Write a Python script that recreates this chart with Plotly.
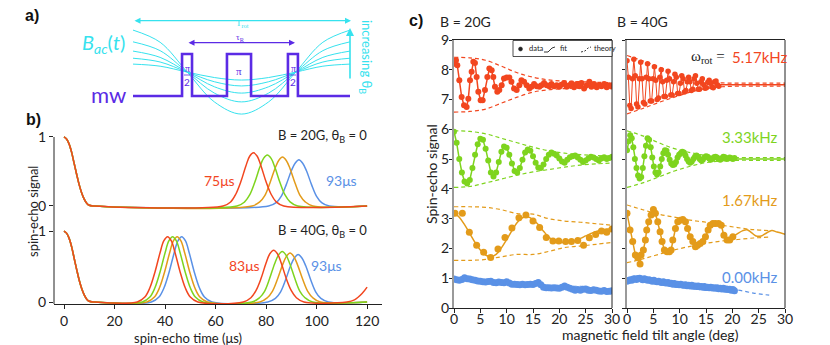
import plotly.graph_objects as go

# the page body adds an 8px margin, so the figure is 8px smaller and every
# layout position below is given in page pixels and shifted back by 8px
W, H = 830, 345
PAGE_PAD = 8
FIG_W, FIG_H = W - PAGE_PAD, H - PAGE_PAD
FONT = "Lato"
SERIF = "Liberation Serif"

RED = "#F2461F"
GREEN = "#7ED41E"
ORANGE = "#E39B1A"
BLUE = "#5A91E6"
CYAN = "#36E2EE"
PURPLE = "#5B2BE5"

# ---------------- panel a: pulse sequence schematic (t in units of T_rot) ----------------
mw_t = [0, 0.226, 0.226, 0.272, 0.272, 0.433, 0.433, 0.544, 0.544, 0.714, 0.714, 0.760, 0.760, 1.0]
mw_level = [0, 0, 1, 1, 0, 0, 1, 1, 0, 0, 1, 1, 0, 0]
bac_t = [0, 0.125, 0.25, 0.375, 0.5, 0.625, 0.75, 0.875, 1.0]
bac_1 = [1.57, 1.28, 0.57, -0.14, -0.43, -0.14, 0.57, 1.28, 1.57]
bac_2 = [1.29, 1.08, 0.57, 0.07, -0.14, 0.07, 0.57, 1.08, 1.29]
bac_3 = [1.07, 0.92, 0.57, 0.22, 0.07, 0.22, 0.57, 0.92, 1.07]
bac_4 = [0.90, 0.81, 0.57, 0.34, 0.24, 0.34, 0.57, 0.81, 0.90]
bac_5 = [0.76, 0.71, 0.57, 0.44, 0.38, 0.44, 0.57, 0.71, 0.76]

# ---------------- panel b: spin-echo signal vs time (us) ----------------
decay_t = [0, 1, 2, 3, 4, 5, 6, 7, 8, 9, 10, 12]
decay_v = [1.0, 0.97, 0.9, 0.78, 0.62, 0.46, 0.31, 0.19, 0.1, 0.04, 0.01, 0.0]

b20_red_t = [63, 66, 68, 70, 72, 73.5, 75, 76.5, 78, 80, 82, 84, 87]
b20_red_v = [0, 0.06, 0.17, 0.35, 0.58, 0.72, 0.77, 0.72, 0.58, 0.35, 0.17, 0.06, 0]
b20_green_t = [68.5, 71.5, 73.5, 75.5, 77.5, 79, 80.5, 82, 83.5, 85.5, 87.5, 89.5, 92.5]
b20_green_v = [0, 0.06, 0.16, 0.34, 0.56, 0.69, 0.74, 0.69, 0.56, 0.34, 0.16, 0.06, 0]
b20_orange_t = [74.5, 77.5, 79.5, 81.5, 83.5, 85, 86.5, 88, 89.5, 91.5, 93.5, 95.5, 98.5]
b20_orange_v = [0, 0.06, 0.15, 0.33, 0.54, 0.66, 0.71, 0.66, 0.54, 0.33, 0.15, 0.06, 0]
b20_blue_t = [81, 84, 86, 88, 90, 91.5, 93, 94.5, 96, 98, 100, 102, 105]
b20_blue_v = [0, 0.05, 0.14, 0.31, 0.51, 0.62, 0.67, 0.62, 0.51, 0.31, 0.14, 0.05, 0]

b40_red_t1 = [29, 32, 34, 36, 38, 39.5, 41, 42.5, 44, 46, 48, 50, 53]
b40_green_t1 = [31, 34, 36, 38, 40, 41.5, 43, 44.5, 46, 48, 50, 52, 55]
b40_orange_t1 = [32.8, 35.8, 37.8, 39.8, 41.8, 43.3, 44.8, 46.3, 47.8, 49.8, 51.8, 53.8, 56.8]
b40_blue_t1 = [34.6, 37.6, 39.6, 41.6, 43.6, 45.1, 46.6, 48.1, 49.6, 51.6, 53.6, 55.6, 58.6]
b40_first_v = [0, 0.07, 0.2, 0.42, 0.69, 0.86, 0.92, 0.86, 0.69, 0.42, 0.2, 0.07, 0]

b40_red_t2 = [71, 74, 76, 78, 80, 81.5, 83, 84.5, 86, 88, 90, 92, 95]
b40_red_v2 = [0, 0.06, 0.16, 0.33, 0.55, 0.68, 0.73, 0.68, 0.55, 0.33, 0.16, 0.06, 0]
b40_green_t2 = [74.4, 77.4, 79.4, 81.4, 83.4, 84.9, 86.4, 87.9, 89.4, 91.4, 93.4, 95.4, 98.4]
b40_green_v2 = [0, 0.06, 0.15, 0.33, 0.54, 0.66, 0.71, 0.66, 0.54, 0.33, 0.15, 0.06, 0]
b40_orange_t2 = [77.5, 80.5, 82.5, 84.5, 86.5, 88, 89.5, 91, 92.5, 94.5, 96.5, 98.5, 101.5]
b40_orange_v2 = [0, 0.06, 0.15, 0.32, 0.52, 0.64, 0.69, 0.64, 0.52, 0.32, 0.15, 0.06, 0]
b40_blue_t2 = [80.7, 83.7, 85.7, 87.7, 89.7, 91.2, 92.7, 94.2, 95.7, 97.7, 99.7, 101.7, 104.7]
b40_blue_v2 = [0, 0.05, 0.14, 0.31, 0.51, 0.62, 0.67, 0.62, 0.51, 0.31, 0.14, 0.05, 0]
b40_red_tail_t = [112, 115, 118, 120]
b40_red_tail_v = [0, 0.03, 0.12, 0.21]

# ---------------- panel c: spin-echo signal vs tilt angle (deg) ----------------
theory_angle = [0, 3, 6, 9, 12, 15, 18, 21, 24, 27, 30]
angle_20g = [0, 0.5, 1, 1.5, 2, 2.5, 3, 3.5, 4, 4.5, 5, 5.5, 6, 6.5, 7, 7.5, 8, 8.5, 9, 9.5,
             10, 10.5, 11, 11.5, 12, 12.5, 13, 13.5, 14, 14.5, 15, 15.5, 16, 16.5, 17, 17.5,
             18, 18.5, 19, 19.5, 20, 20.5, 21, 21.5, 22, 22.5, 23, 23.5, 24, 24.5, 25, 25.5,
             26, 26.5, 27, 27.5, 28, 28.5, 29, 29.5, 30]
angle_40g = [0, 0.3, 0.6, 0.9, 1.2, 1.5, 1.8, 2.1, 2.4, 2.7, 3.0, 3.3, 3.6, 3.9, 4.2, 4.5,
             4.8, 5.1, 5.4, 5.7, 6.0, 6.3, 6.6, 6.9, 7.2, 7.5, 7.8, 8.1, 8.4, 8.7, 9.0, 9.3,
             9.6, 9.9, 10.2, 10.5, 10.8, 11.1, 11.4, 11.7, 12.0, 12.3, 12.6, 12.9, 13.2, 13.5,
             13.8, 14.1, 14.4, 14.7, 15.0, 15.3, 15.6, 15.9, 16.2, 16.5, 16.8, 17.1, 17.4,
             17.7, 18.0, 18.3, 18.6, 18.9, 19.2, 19.5, 19.8, 20.1, 20.4]

# B = 20G, 5.17 kHz
c20_red_x = [0, 0.38, 0.63, 1.01, 1.45, 1.9, 2.4, 2.72, 3.04, 3.35, 3.67, 3.98, 4.3, 4.62,
             5.06, 5.44, 5.88, 6.33, 6.71, 7.15, 7.46, 7.78, 8.22, 8.6, 9.05, 9.49, 10.0, 10.5,
             10.9, 11.4, 11.9, 12.4, 12.8, 13.3, 13.8, 14.3, 14.7, 15.2, 15.7, 16.2, 16.6,
             17.1, 17.6, 18.1, 18.5, 19.0, 19.5, 20.0, 20.4, 20.9, 21.4, 21.9, 22.3, 22.8,
             23.3, 23.8, 24.2, 24.7, 25.2, 25.7, 26.1, 26.6, 27.1, 27.6, 28.0, 28.5, 29.0,
             29.5, 29.9]
c20_red_y = [8.2, 8.32, 8.15, 7.65, 7.09, 6.81, 6.75, 7.03, 7.65, 7.93, 8.27, 8.23, 7.76, 7.26,
             6.98, 6.98, 7.32, 7.76, 8.04, 7.98, 7.76, 7.43, 7.26, 7.32, 7.48, 7.71, 7.74, 7.74,
             7.6, 7.37, 7.32, 7.48, 7.65, 7.6, 7.48, 7.37, 7.43, 7.52, 7.45, 7.43, 7.48, 7.56,
             7.48, 7.45, 7.52, 7.45, 7.48, 7.43, 7.5, 7.56, 7.43, 7.48, 7.54, 7.41, 7.52, 7.45,
             7.56, 7.37, 7.48, 7.6, 7.43, 7.52, 7.41, 7.48, 7.45, 7.52, 7.41, 7.48, 7.44]
c20_red_up = [8.42, 8.4, 8.32, 8.12, 7.9, 7.75, 7.66, 7.62, 7.6, 7.58, 7.57]
c20_red_lo = [6.58, 6.6, 6.68, 6.88, 7.08, 7.25, 7.33, 7.37, 7.39, 7.41, 7.42]

# B = 20G, 3.33 kHz
c20_green_y = [5.92, 5.55, 5.0, 4.55, 4.25, 4.18, 4.3, 4.7, 5.15, 5.5, 5.68, 5.65, 5.35, 4.95,
               4.55, 4.42, 4.55, 4.9, 5.25, 5.42, 5.38, 5.15, 4.85, 4.6, 4.55, 4.7, 4.98, 5.22,
               5.32, 5.28, 5.1, 4.88, 4.72, 4.7, 4.82, 5.0, 5.15, 5.22, 5.18, 5.12, 5.02, 4.92,
               4.88, 4.98, 5.06, 5.1, 5.12, 5.05, 4.98, 4.9, 4.95, 5.02, 5.08, 5.05, 5.0, 4.95,
               5.02, 5.06, 5.0, 5.04, 5.08]
c20_green_up = [5.95, 5.93, 5.85, 5.7, 5.55, 5.4, 5.28, 5.2, 5.15, 5.12, 5.1]
c20_green_lo = [4.05, 4.08, 4.2, 4.33, 4.46, 4.57, 4.65, 4.73, 4.8, 4.84, 4.87]

# B = 20G, 1.67 kHz
c20_orange_x = [0.19, 1.58, 2.91, 4.3, 5.63, 6.96, 8.35, 9.68, 11.0, 12.33, 13.66, 15.0, 16.26,
                17.52, 18.78, 19.9, 21.2, 22.3, 23.5, 24.6, 25.7, 26.9, 28.0, 29.0, 30.0]
c20_orange_y = [3.18, 3.18, 2.54, 2.11, 1.87, 1.70, 1.98, 2.37, 2.69, 3.03, 3.12, 2.92, 2.70,
                2.37, 2.25, 2.25, 2.23, 2.23, 2.27, 2.11, 2.36, 2.47, 2.59, 2.54, 2.65]
c20_orange_fit_x = [0, 1, 2, 3, 4, 5, 6, 7, 8, 9, 10, 11, 12, 13, 14, 15, 16, 17, 18, 19, 20,
                    21, 22, 23, 24, 25, 26, 27, 28, 29, 30]
c20_orange_fit_y = [3.2, 3.05, 2.8, 2.5, 2.2, 1.95, 1.78, 1.72, 1.8, 2.02, 2.3, 2.6, 2.87, 3.03,
                    3.06, 2.97, 2.8, 2.58, 2.38, 2.25, 2.2, 2.2, 2.22, 2.27, 2.34, 2.42, 2.5,
                    2.57, 2.62, 2.65, 2.66]
c20_orange_up = [3.4, 3.4, 3.38, 3.3, 3.17, 3.15, 3.0, 2.92, 2.88, 2.83, 2.78]
c20_orange_lo = [1.6, 1.6, 1.63, 1.72, 1.8, 1.8, 1.9, 2.03, 2.08, 2.14, 2.2]

# B = 20G, 0.00 kHz
c20_blue_y = [0.97, 0.95, 0.93, 0.96, 1.02, 0.98, 0.97, 0.95, 0.93, 0.91, 0.9, 0.88, 0.87, 0.89,
              0.9, 0.86, 0.85, 0.87, 0.86, 0.85, 0.88, 0.84, 0.8, 0.8, 0.79, 0.78, 0.8, 0.78,
              0.79, 0.8, 0.79, 0.82, 0.86, 0.78, 0.7, 0.68, 0.68, 0.67, 0.68, 0.67, 0.66, 0.7,
              0.74, 0.7, 0.66, 0.63, 0.6, 0.62, 0.6, 0.63, 0.64, 0.6, 0.59, 0.61, 0.6, 0.57,
              0.56, 0.59, 0.55, 0.56, 0.58]
c20_blue_th = [0.95, 0.93, 0.89, 0.86, 0.83, 0.8, 0.72, 0.71, 0.73, 0.66, 0.6]

# B = 40G, 5.17 kHz
c40_red_x = [0, 0.26, 0.52, 0.78, 1.04, 1.3, 1.56, 1.82, 2.08, 2.34, 2.6, 2.86, 3.12, 3.38,
             3.64, 3.9, 4.16, 4.42, 4.68, 4.94, 5.2, 5.46, 5.72, 5.98, 6.24, 6.5, 6.76, 7.02,
             7.28, 7.54, 7.8, 8.06, 8.32, 8.58, 8.84, 9.1, 9.36, 9.62, 9.88, 10.14, 10.4,
             10.66, 10.92, 11.18, 11.44, 11.7, 11.96, 12.22, 12.48, 12.74, 13.0, 13.26, 13.52,
             13.78, 14.04, 14.3, 14.56, 14.82, 15.08, 15.34, 15.6, 15.86, 16.12, 16.38, 16.64,
             16.9, 17.16, 17.42]
c40_red_y = [8.3, 7.75, 6.8, 6.7, 7.7, 8.35, 7.8, 6.85, 6.75, 7.7, 8.25, 7.7, 6.9, 6.85, 7.75,
             8.2, 7.7, 6.95, 6.95, 7.7, 8.1, 7.65, 7.0, 7.05, 7.75, 8.0, 7.6, 7.1, 7.1, 7.65,
             7.95, 7.7, 7.15, 7.15, 7.6, 7.85, 7.75, 7.2, 7.2, 7.55, 7.8, 7.7, 7.25, 7.3, 7.6,
             7.75, 7.6, 7.3, 7.35, 7.7, 7.8, 7.55, 7.35, 7.35, 7.6, 7.7, 7.5, 7.38, 7.4, 7.58,
             7.65, 7.55, 7.42, 7.4, 7.6, 7.62, 7.5, 7.45]
c40_red_fit_x = [17.42, 30]
c40_red_fit_y = [7.5, 7.5]
c40_red_up = [8.48, 8.3, 8.1, 7.9, 7.72, 7.6, 7.56, 7.55, 7.55, 7.55, 7.55]
c40_red_lo = [6.52, 6.7, 6.9, 7.08, 7.25, 7.37, 7.43, 7.45, 7.45, 7.45, 7.45]

# B = 40G, 3.33 kHz
c40_green_y = [5.3, 5.6, 5.8, 5.7, 5.4, 5.0, 4.7, 4.45, 4.35, 4.4, 4.7, 5.1, 5.45, 5.7, 5.65,
               5.4, 5.05, 4.75, 4.55, 4.48, 4.55, 4.75, 5.0, 5.2, 5.3, 5.28, 5.15, 4.98, 4.85,
               4.8, 4.82, 4.9, 5.05, 5.15, 5.2, 5.25, 5.22, 5.12, 5.0, 4.92, 4.88, 4.92, 5.0,
               5.08, 5.12, 5.08, 5.0, 4.95, 4.98, 5.05, 5.1, 5.08, 5.02, 4.98, 5.0, 5.06, 5.08,
               5.05, 5.0, 4.98, 5.03, 5.08, 5.06, 5.0, 5.02, 5.05, 5.03, 5.0, 5.04]
c40_green_fit_x = [20.4, 30]
c40_green_fit_y = [5.0, 5.0]
c40_green_up = [5.95, 5.78, 5.55, 5.35, 5.22, 5.12, 5.07, 5.05, 5.05, 5.05, 5.05]
c40_green_lo = [4.05, 4.2, 4.4, 4.6, 4.76, 4.88, 4.94, 4.96, 4.96, 4.96, 4.96]

# B = 40G, 1.67 kHz
c40_orange_x = [0, 0.58, 1.08, 1.59, 2.03, 2.48, 2.67, 3.11, 3.49, 3.74, 4.12, 4.57, 5.01, 5.39,
                5.84, 6.28, 6.66, 7.1, 7.61, 8.05, 8.37, 8.69, 9.2, 9.64, 10.1, 10.6, 11.1,
                11.5, 12.0, 12.5, 13.0, 13.4, 13.9, 14.4, 14.9, 15.4, 15.8, 16.3, 16.8, 17.4,
                17.9, 18.4, 19.0, 19.5, 20.1]
c40_orange_y = [3.18, 2.62, 2.23, 1.78, 1.70, 1.48, 1.78, 1.95, 2.28, 2.62, 2.9, 3.12, 3.31,
                3.18, 2.9, 2.56, 2.23, 1.95, 1.89, 1.89, 1.95, 2.28, 2.67, 2.9, 2.95, 2.97, 2.9,
                2.67, 2.39, 2.23, 2.06, 2.11, 2.17, 2.23, 2.39, 2.62, 2.78, 2.84, 2.84, 2.84,
                2.78, 2.44, 2.28, 2.28, 2.39]
c40_orange_fit_x = [20.1, 21, 22, 22.8, 23.5, 24.5, 25.5, 26.5, 27.5, 28.5, 30]
c40_orange_fit_y = [2.39, 2.5, 2.6, 2.63, 2.55, 2.42, 2.42, 2.52, 2.6, 2.55, 2.48]
c40_orange_th_x = [0, 3, 6, 9, 12, 15, 18, 21, 24, 27]
c40_orange_up = [3.46, 3.3, 3.15, 3.05, 2.95, 2.88, 2.78, 2.7, 2.63, 2.6]
c40_orange_lo = [1.52, 1.65, 1.8, 1.95, 2.07, 2.17, 2.25, 2.3, 2.35, 2.38]

# B = 40G, 0.00 kHz
c40_blue_y = [0.9, 0.92, 0.95, 0.93, 0.97, 0.98, 0.96, 0.99, 1.0, 0.97, 0.95, 0.98, 0.96, 0.93,
              0.95, 0.92, 0.9, 0.93, 0.9, 0.88, 0.9, 0.87, 0.86, 0.88, 0.85, 0.84, 0.86, 0.82,
              0.83, 0.8, 0.82, 0.79, 0.8, 0.78, 0.8, 0.77, 0.76, 0.78, 0.75, 0.76, 0.74, 0.76,
              0.73, 0.74, 0.72, 0.74, 0.71, 0.72, 0.7, 0.72, 0.69, 0.7, 0.68, 0.7, 0.67, 0.68,
              0.66, 0.68, 0.65, 0.66, 0.64, 0.66, 0.63, 0.64, 0.62, 0.63, 0.6, 0.62, 0.58]
c40_blue_th_x = [0, 3, 6, 9, 12, 15, 18, 21, 24, 27]
c40_blue_th = [0.92, 0.9, 0.8, 0.72, 0.66, 0.6, 0.6, 0.6, 0.5, 0.43]


def px(x):
    return (x - PAGE_PAD) / FIG_W


def py(y):
    return 1 - (y - PAGE_PAD) / FIG_H


fig = go.Figure()


def line(x, y, color, xa, ya, width=1.5, dash=None, shape="linear"):
    fig.add_trace(go.Scatter(
        x=x, y=y, mode="lines", xaxis=xa, yaxis=ya, hoverinfo="skip",
        line=dict(color=color, width=width, dash=dash, shape=shape, smoothing=1)
    ))


def data(x, y, color, xa, ya, size=6, width=1.5):
    fig.add_trace(go.Scatter(
        x=x, y=y, mode="lines+markers", xaxis=xa, yaxis=ya,
        line=dict(color=color, width=width),
        marker=dict(color=color, size=size)
    ))


def label(text, x, y, size=13, color="#222", xanchor="center", family=FONT, angle=0):
    fig.add_annotation(
        text=text, x=px(x), y=py(y), xref="paper", yref="paper", showarrow=False,
        xanchor=xanchor, yanchor="middle", textangle=angle,
        font=dict(size=size, color=color, family=family)
    )


# panel a
for curve in [bac_1, bac_2, bac_3, bac_4, bac_5]:
    line(bac_t, curve, CYAN, "x5", "y5", width=1, shape="spline")
line(mw_t, mw_level, PURPLE, "x5", "y5", width=2.6)

# panel b
DASH_TH = "4px,3px"
top_peaks = [(b20_blue_t, b20_blue_v, BLUE), (b20_orange_t, b20_orange_v, ORANGE),
             (b20_green_t, b20_green_v, GREEN), (b20_red_t, b20_red_v, RED)]
for t, v, c in top_peaks:
    line(decay_t + t + [120], decay_v + v + [0], c, "x", "y", shape="spline")

bottom_peaks = [
    (b40_blue_t1, b40_blue_t2, b40_blue_v2, [120], [0], BLUE),
    (b40_orange_t1, b40_orange_t2, b40_orange_v2, [120], [0], ORANGE),
    (b40_green_t1, b40_green_t2, b40_green_v2, [120], [0], GREEN),
    (b40_red_t1, b40_red_t2, b40_red_v2, b40_red_tail_t, b40_red_tail_v, RED),
]
for t1, t2, v2, tt, tv, c in bottom_peaks:
    line(decay_t + t1 + t2 + tt, decay_v + b40_first_v + v2 + tv, c, "x2", "y2", shape="spline")

# panel c, B = 20G
for up, lo, c in [(c20_red_up, c20_red_lo, RED), (c20_green_up, c20_green_lo, GREEN),
                  (c20_orange_up, c20_orange_lo, ORANGE)]:
    line(theory_angle, up, c, "x3", "y3", width=1.2, dash=DASH_TH, shape="spline")
    line(theory_angle, lo, c, "x3", "y3", width=1.2, dash=DASH_TH, shape="spline")
line(theory_angle, c20_blue_th, BLUE, "x3", "y3", width=1.2, dash=DASH_TH, shape="spline")
data(c20_red_x, c20_red_y, RED, "x3", "y3")
data(angle_20g, c20_green_y, GREEN, "x3", "y3")
line(c20_orange_fit_x, c20_orange_fit_y, ORANGE, "x3", "y3", shape="spline")
fig.add_trace(go.Scatter(x=c20_orange_x, y=c20_orange_y, mode="markers", xaxis="x3",
                         yaxis="y3", marker=dict(color=ORANGE, size=7)))
data(angle_20g, c20_blue_y, BLUE, "x3", "y3", size=7, width=3)

# panel c, B = 40G
for up, lo, c in [(c40_red_up, c40_red_lo, RED), (c40_green_up, c40_green_lo, GREEN)]:
    line(theory_angle, up, c, "x4", "y4", width=1.2, dash=DASH_TH, shape="spline")
    line(theory_angle, lo, c, "x4", "y4", width=1.2, dash=DASH_TH, shape="spline")
line(c40_orange_th_x, c40_orange_up, ORANGE, "x4", "y4", width=1.2, dash=DASH_TH, shape="spline")
line(c40_orange_th_x, c40_orange_lo, ORANGE, "x4", "y4", width=1.2, dash=DASH_TH, shape="spline")
line(c40_blue_th_x, c40_blue_th, BLUE, "x4", "y4", width=1.2, dash=DASH_TH, shape="spline")
line(c40_red_fit_x, c40_red_fit_y, RED, "x4", "y4")
line(c40_green_fit_x, c40_green_fit_y, GREEN, "x4", "y4")
line(c40_orange_fit_x, c40_orange_fit_y, ORANGE, "x4", "y4", shape="spline")
data(c40_red_x, c40_red_y, RED, "x4", "y4", size=5.5, width=1)
data(angle_40g, c40_green_y, GREEN, "x4", "y4")
data(c40_orange_x, c40_orange_y, ORANGE, "x4", "y4", size=7)
data(angle_40g, c40_blue_y, BLUE, "x4", "y4", size=7, width=3)

# axes
tick_font = dict(family=FONT, size=14, color="#222")
hidden = dict(visible=False, fixedrange=True, automargin=False)
b_x = dict(domain=[px(54), px(382)], range=[-3.96, 125.9], showgrid=False, zeroline=False,
           automargin=False)
c_x = dict(range=[0, 30], tickvals=[0, 5, 10, 15, 20, 25, 30], ticks="outside", ticklen=4,
           showline=True, linecolor="#222", linewidth=1, mirror=True, showgrid=False,
           zeroline=False, tickfont=tick_font, tickcolor="#222", automargin=False,
           ticklabelstandoff=-6)
c_y = dict(domain=[py(308), py(40)], range=[0, 9], dtick=1, ticks="outside", ticklen=3,
           showline=True, linecolor="#9a9a9a", linewidth=2, showgrid=False, zeroline=False,
           tickfont=tick_font, tickcolor="#222", automargin=False, ticklabelstandoff=-3)

fig.update_layout(
    width=FIG_W, height=FIG_H,
    margin=dict(l=0, r=0, t=0, b=0, pad=0, autoexpand=False),
    plot_bgcolor="white", paper_bgcolor="white",
    showlegend=False,
    font=dict(family=FONT),
    xaxis=dict(b_x, anchor="y", visible=False),
    yaxis=dict(domain=[py(212), py(130)], range=[-0.087, 1.101], anchor="x",
               tickvals=[0, 1], ticks="outside", ticklen=4, tickcolor="#222",
               showline=False, showgrid=False, zeroline=False, tickfont=tick_font,
               automargin=False),
    xaxis2=dict(b_x, anchor="y2", tickvals=[0, 20, 40, 60, 80, 100, 120], ticks="outside",
                ticklen=4, tickcolor="#222", showline=True, linecolor="#222", linewidth=1,
                tickfont=tick_font),
    yaxis2=dict(domain=[py(304), py(212)], range=[-0.028, 1.268], anchor="x2",
                tickvals=[0, 1], ticks="outside", ticklen=4, tickcolor="#222",
                showline=False, showgrid=False, zeroline=False, tickfont=tick_font,
                automargin=False),
    xaxis3=dict(c_x, domain=[px(454), px(612)], anchor="y3"),
    yaxis3=dict(c_y, anchor="x3"),
    xaxis4=dict(c_x, domain=[px(627), px(785)], anchor="y4"),
    yaxis4=dict(c_y, anchor="x4", showticklabels=False),
    xaxis5=dict(hidden, domain=[px(133), px(350)], range=[0, 1], anchor="y5"),
    yaxis5=dict(hidden, domain=[py(125), py(10)], range=[-0.69, 2.048], anchor="x5"),
)

# frame pieces
shapes = [
    dict(type="line", xref="paper", yref="paper", x0=px(54), x1=px(54), y0=py(137), y1=py(304),
         line=dict(color="#222", width=1)),
    dict(type="line", xref="x3 domain", yref="y3 domain", x0=1, x1=1, y0=0, y1=1,
         line=dict(color="#222", width=1)),
    dict(type="line", xref="x4 domain", yref="y4 domain", x0=1, x1=1, y0=0, y1=1,
         line=dict(color="#222", width=1)),
    # pi/2 fraction bars
    dict(type="line", xref="paper", yref="paper", x0=px(184), x1=px(190), y0=py(75), y1=py(75),
         line=dict(color=PURPLE, width=0.8)),
    dict(type="line", xref="paper", yref="paper", x0=px(290), x1=px(296), y0=py(75), y1=py(75),
         line=dict(color=PURPLE, width=0.8)),
    # legend box of panel c
    dict(type="rect", xref="paper", yref="paper", x0=px(513), x1=px(612), y0=py(56.5),
         y1=py(40.5), line=dict(color="#222", width=0.8), fillcolor="white"),
    dict(type="circle", xref="paper", yref="paper", x0=px(518.5), x1=px(522.5), y0=py(51),
         y1=py(47), line=dict(color="#222", width=0.5), fillcolor="#222"),
    dict(type="path", xref="paper", yref="paper",
         path=f"M{px(544)},{py(52)} L{px(548)},{py(52)} L{px(552)},{py(48)} L{px(555)},{py(47)}",
         line=dict(color="#222", width=0.9)),
    dict(type="path", xref="paper", yref="paper",
         path=f"M{px(581)},{py(52)} L{px(585)},{py(51)} L{px(588)},{py(48)} L{px(591)},{py(47)}",
         line=dict(color="#222", width=0.9, dash="2px,1.5px")),
]
fig.update_layout(shapes=shapes)

# panel a text and arrows
label("<b>a)</b>", 32, 15, size=16, color="#111", family="Liberation Sans")
label("<b>b)</b>", 33, 120, size=16, color="#111", family="Liberation Sans")
label("<b>c)</b>", 416, 20, size=16, color="#111", family="Liberation Sans")
label("<i>B</i><sub><i>ac</i></sub>(<i>t</i>)", 127, 43, size=20, color=CYAN, xanchor="right")
label("mw", 128, 95, size=22, color=PURPLE, xanchor="right")
label("π", 187, 68, size=10, color=PURPLE, family=SERIF)
label("2", 187, 82, size=10, color=PURPLE)
label("π", 293, 68, size=10, color=PURPLE, family=SERIF)
label("2", 293, 82, size=10, color=PURPLE)
label("π", 239, 71, size=11, color=PURPLE, family=SERIF)
label("T<sub>rot</sub>", 242, 24, size=9, color=CYAN, family=SERIF)
label("τ<sub>R</sub>", 240, 38, size=9, color=PURPLE, family=SERIF)
label("increasing θ<sub>B</sub>", 366, 57, size=13, color=CYAN, angle=90)
arrows = [
    (351, 20.7, -218, 0, CYAN, "end+start", 1.2),
    (295, 42.7, -108, 0, PURPLE, "end+start", 1.2),
    (350, 28, 0, 52, CYAN, "end", 1.6),
]
for x, y, ax, ay, c, side, w in arrows:
    fig.add_annotation(x=px(x), y=py(y), xref="paper", yref="paper", ax=ax, ay=ay,
                       showarrow=True, arrowhead=2, arrowsize=1, arrowwidth=w,
                       arrowcolor=c, arrowside=side, text="")

# panel b text
label("B = 20G, θ<sub>B</sub> = 0", 369, 136, size=13, xanchor="right")
label("B = 40G, θ<sub>B</sub> = 0", 369, 231, size=13, xanchor="right")
label("75μs", 219, 180, size=14, color=RED)
label("93μs", 341, 180, size=14, color=BLUE)
label("83μs", 245, 265, size=14, color=RED)
label("93μs", 326, 265, size=14, color=BLUE)
label("spin-echo signal", 33, 212, size=13, angle=-90)
label("spin-echo time (μs)", 188, 338, size=13)

# panel c text
label("B = 20G", 465, 22, size=14)
label("B = 40G", 642, 22, size=14)
label("Spin-echo signal", 431, 174, size=14, angle=-90)
label("magnetic field tilt angle (deg)", 650, 334, size=14)
label("data", 527, 49, size=7.5, xanchor="left")
label("fit", 558, 49, size=7.5, xanchor="left")
label("theory", 592, 49, size=7.5, xanchor="left")
label("ω<sub>rot</sub> =", 727, 57, size=15, family=SERIF, xanchor="right")
label("5.17kHz", 730, 57, size=15, color=RED, xanchor="left")
label("3.33kHz", 750, 137, size=15, color=GREEN)
label("1.67kHz", 750, 200, size=15, color=ORANGE)
label("0.00kHz", 750, 277, size=15, color=BLUE)

fig.write_html("out.html")
